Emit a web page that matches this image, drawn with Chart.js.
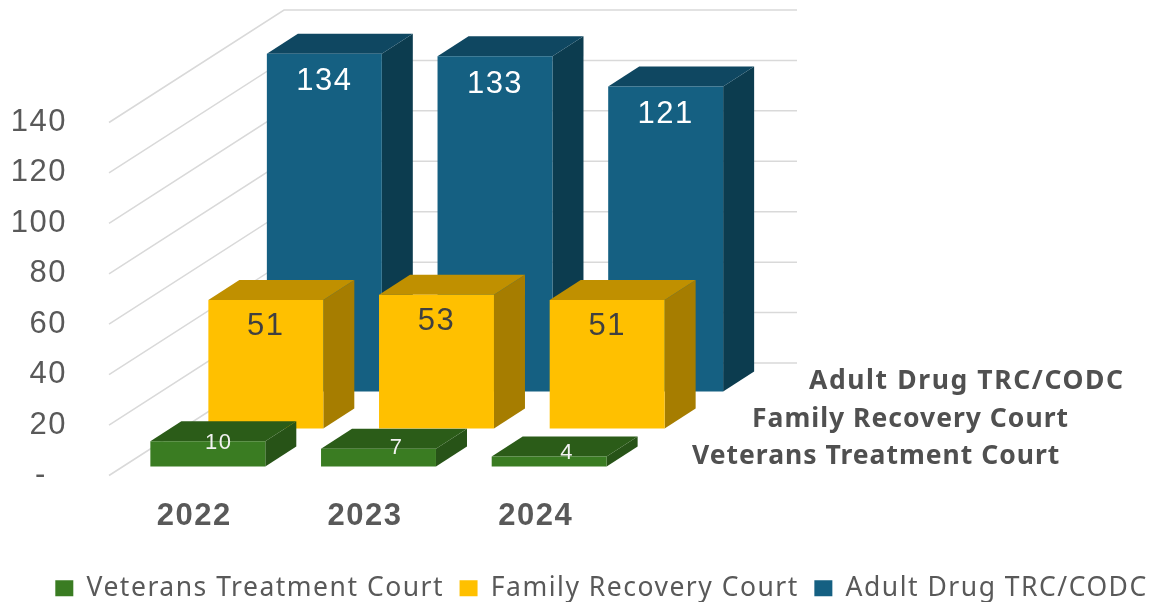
<!DOCTYPE html>
<html>
<head>
<meta charset="utf-8">
<style>
  html, body { margin: 0; background: #fff; }
  canvas { display: block; }
</style>
<script src="https://cdn.jsdelivr.net/npm/chart.js@4"></script>
</head>
<body>
<canvas id="courtChart" width="1157" height="602"></canvas>
<script>
// ─── data ───
const years     = ['2022', '2023', '2024'];
const veterans  = [10, 7, 4];
const family    = [51, 53, 51];
const adult     = [134, 133, 121];
const yTicks    = [0, 20, 40, 60, 80, 100, 120, 140];

// ─── 3D look ───
const TEXT_GREY = '#595959';
const SPACING = '1.5px';
const BOX_DX = 31, BOX_DY = 20;       // depth of each box
const WALL_DX = 175, WALL_DY = 112.5; // side wall of the chart
const WALL_RIGHT = 797;

// front / top / side colour + where the row sits in depth
const rows = [
    { top: '#2b5c18', side: '#275317', dx: 13.5, dy: -9, labelColor: '#f2f2f2', labelFont: '22px "Liberation Sans"',
      labelNudge: [[11, 2], [18, -1], [18, -3]] },
    { top: '#c09000', side: '#a67d00', dx: 71.5, dy: -47, labelColor: '#404040', labelFont: '31px "Liberation Sans"', labelBelow: 27 },
    { top: '#0f4761', side: '#0c3c4f', dx: 130, dy: -84, labelColor: '#ffffff', labelFont: '31px "Liberation Sans"', labelBelow: 28 }
];

const depthLabels = [
    { text: 'Veterans Treatment Court', x: 692, y: 456, spacing: '1px' },
    { text: 'Family Recovery Court',    x: 752, y: 419, spacing: '1px' },
    { text: 'Adult Drug TRC/CODC',      x: 809, y: 381, spacing: '1.6px' }
];

function quad(ctx, pts, color) {
    ctx.fillStyle = color;
    ctx.beginPath();
    ctx.moveTo(pts[0][0], pts[0][1]);
    for (let i = 1; i < pts.length; i++) ctx.lineTo(pts[i][0], pts[i][1]);
    ctx.closePath();
    ctx.fill();
}

const box3d = {
    id: 'box3d',
    beforeLayout(chart) { chart.ctx.letterSpacing = SPACING; },
    beforeDraw(chart) { chart.ctx.letterSpacing = SPACING; },

    // grid: side wall then back wall
    beforeDatasetsDraw(chart) {
        const ctx = chart.ctx, yS = chart.scales.y, left = chart.scales.x.left;
        ctx.save();
        ctx.strokeStyle = '#d9d9d9';
        ctx.lineWidth = 1.5;
        yS.ticks.forEach(function(t) {
            const py = yS.getPixelForValue(t.value);
            ctx.beginPath();
            ctx.moveTo(left, py);
            ctx.lineTo(left + WALL_DX, py - WALL_DY);
            ctx.lineTo(WALL_RIGHT, py - WALL_DY);
            ctx.stroke();
        });
        ctx.restore();
    },

    // each row is shifted back in depth, the front face is the real bar
    beforeDatasetDraw(chart, args) {
        const ctx = chart.ctx, row = rows[args.index];
        ctx.save();
        ctx.translate(row.dx, row.dy);
        args.meta.data.forEach(function(bar) {
            const l = bar.x - bar.width / 2, r = bar.x + bar.width / 2;
            quad(ctx, [[r, bar.y], [r + BOX_DX, bar.y - BOX_DY], [r + BOX_DX, bar.base - BOX_DY], [r, bar.base]], row.side);
            quad(ctx, [[l, bar.y], [l + BOX_DX, bar.y - BOX_DY], [r + BOX_DX, bar.y - BOX_DY], [r, bar.y]], row.top);
        });
    },

    afterDatasetDraw(chart, args) {
        const ctx = chart.ctx, row = rows[args.index], values = chart.data.datasets[args.index].data;
        ctx.textAlign = 'center';
        ctx.textBaseline = 'middle';
        ctx.font = row.labelFont;
        ctx.fillStyle = row.labelColor;
        args.meta.data.forEach(function(bar, i) {
            const n = row.labelNudge ? row.labelNudge[i] : [0, row.labelBelow];
            ctx.fillText(String(values[i]), bar.x + n[0], bar.y + n[1]);
        });
        ctx.restore();
    },

    afterDatasetsDraw(chart) {
        const ctx = chart.ctx;
        ctx.save();
        ctx.font = 'bold 26.5px "Noto Sans"';
        ctx.fillStyle = '#505050';
        ctx.textAlign = 'left';
        ctx.textBaseline = 'middle';
        depthLabels.forEach(function(d) {
            ctx.letterSpacing = d.spacing;
            ctx.fillText(d.text, d.x, d.y);
        });
        ctx.restore();
    }
};

new Chart(document.getElementById('courtChart'), {
    type: 'bar',
    plugins: [box3d],
    data: {
        labels: years,
        datasets: [
            { label: 'Veterans Treatment Court', data: veterans, backgroundColor: '#3a7c22' },
            { label: 'Family Recovery Court',    data: family,   backgroundColor: '#ffc000' },
            { label: 'Adult Drug TRC/CODC',      data: adult,    backgroundColor: '#156082' }
        ]
    },
    options: {
        responsive: false,
        animation: false,
        // negative padding keeps the wide legend on one line, centred where the original has it
        layout: { padding: { left: 8, top: 122.5, right: -38, bottom: -9.5 } },
        datasets: {
            bar: { grouped: false, barPercentage: 0.6735, categoryPercentage: 1, clip: false, borderWidth: 0 }
        },
        plugins: {
            tooltip: { enabled: false },
            legend: {
                position: 'bottom',
                labels: {
                    boxWidth: 18, boxHeight: 16, padding: 15.5,
                    color: TEXT_GREY,
                    font: { family: '"Noto Sans"', size: 26.5 }
                }
            }
        },
        scales: {
            x: {
                grid: { display: false, drawTicks: false },
                border: { display: false },
                afterFit(s) { s.height = 84; },
                ticks: {
                    color: TEXT_GREY, padding: 22,
                    maxRotation: 0,
                    font: { family: '"Liberation Sans"', size: 31, weight: 'bold' }
                }
            },
            y: {
                min: 0, max: 140,
                grid: { display: false, drawTicks: false },
                border: { display: false },
                afterFit(s) { s.width = 101; },
                afterBuildTicks(s) { s.ticks = yTicks.map(function(v) { return { value: v }; }); },
                ticks: {
                    color: TEXT_GREY, padding: 42,
                    font: { family: '"Liberation Sans"', size: 31 },
                    callback: function(v) { return v === 0 ? '-\u00a0\u00a0' : String(v); }
                }
            },
            // empty axis that holds the plot to the left of the depth labels
            rightGap: {
                axis: 'y', position: 'right', display: true,
                grid: { display: false }, border: { display: false },
                ticks: { display: false },
                afterFit(s) { s.width = 574; }
            }
        }
    }
});
</script>
</body>
</html>
